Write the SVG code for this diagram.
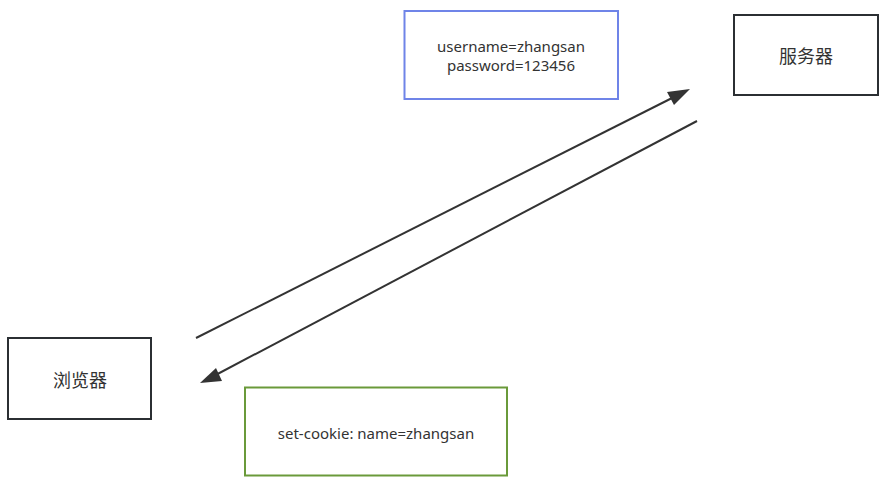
<svg xmlns="http://www.w3.org/2000/svg" width="887" height="482" viewBox="0 0 887 482">
<defs>
<style>
.t{font-family:"Noto Sans","Open Sans","Noto Sans CJK SC",sans-serif;font-size:15px;fill:#333;text-anchor:middle;dominant-baseline:central}
.c{font-family:"Noto Sans CJK SC","Noto Sans",sans-serif;font-size:18px;fill:#333;text-anchor:middle;dominant-baseline:central}
.n{fill:#fff;stroke:#2b2f33;stroke-width:2}
.e{stroke:#333;stroke-width:2;fill:none}
.h{fill:#333}
</style>
</defs>
<rect width="887" height="482" fill="#fff"/>
<g id="connectors">
<line class="e" x1="196" y1="338" x2="680" y2="94"/>
<path class="h" d="M690,89 L667,92 L674,105 z"/>
<line class="e" x1="697" y1="121" x2="210" y2="378"/>
<path class="h" d="M200,383 L216,368 L222,381 z"/>
</g>
<g id="credentials">
<rect x="404.5" y="11" width="213.5" height="88" fill="#fff" stroke="#6f84e8" stroke-width="2"/>
<text class="t" x="511" y="46">username=zhangsan</text>
<text class="t" x="511" y="65">password=123456</text>
</g>
<g id="server">
<rect class="n" x="734" y="15" width="144" height="80"/>
<text class="c" x="806" y="55">服务器</text>
</g>
<g id="browser">
<rect class="n" x="8" y="338" width="143" height="81"/>
<text class="c" x="80" y="379">浏览器</text>
</g>
<g id="cookie">
<rect x="245" y="387.5" width="262" height="88" fill="#fff" stroke="#6a9a3a" stroke-width="2"/>
<text class="t" x="376" y="433">set-cookie: name=zhangsan</text>
</g>
</svg>
